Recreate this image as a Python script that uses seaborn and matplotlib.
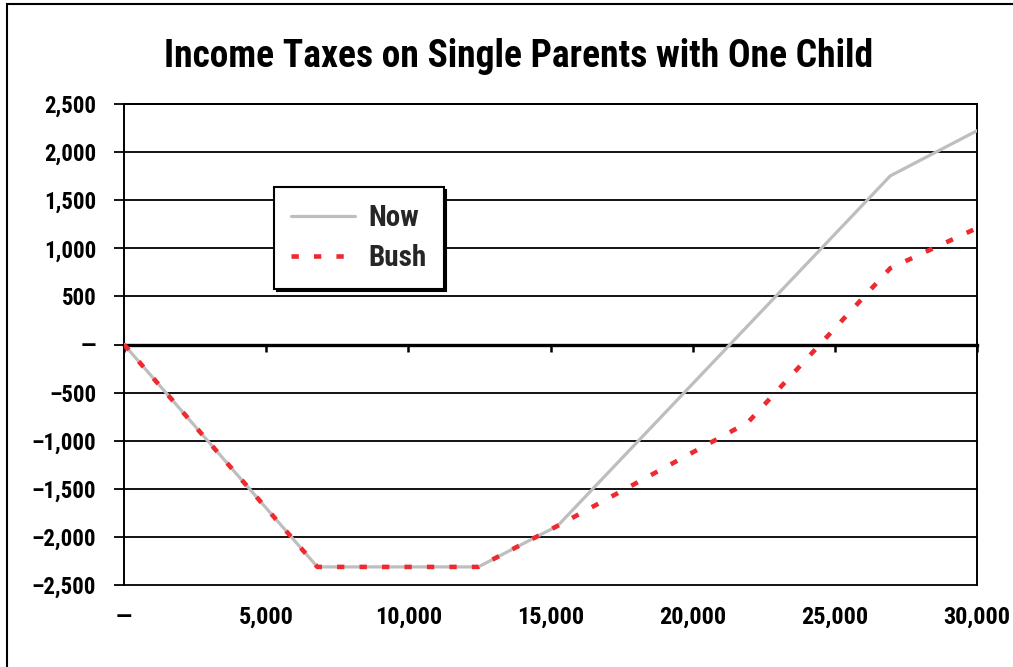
import matplotlib
matplotlib.use("Agg")
import matplotlib.pyplot as plt
from matplotlib import font_manager
from matplotlib.patches import Rectangle
import seaborn as sns
import pandas as pd

# Tax (negative = refund) by earned income, current law vs. the Bush plan
income_now = [0, 6800, 12460, 15250, 26950, 30000]
tax_now = [0, -2312, -2312, -1885, 1753, 2222]

income_bush = [0, 6800, 12460, 15250, 21950, 26950, 30000]
tax_bush = [0, -2312, -2312, -1885, -808, 793, 1210]

series_names = ["Now", "Bush"]

x_ticks = [0, 5000, 10000, 15000, 20000, 25000, 30000]
x_tick_labels = ["\u2014", "5,000", "10,000", "15,000", "20,000", "25,000", "30,000"]

y_ticks = [-2500, -2000, -1500, -1000, -500, 0, 500, 1000, 1500, 2000, 2500]
y_tick_labels = ["\u20132,500", "\u20132,000", "\u20131,500", "\u20131,000", "\u2013500",
                 "\u2014", "500", "1,000", "1,500", "2,000", "2,500"]

title = "Income Taxes on Single Parents with One Child"

sns.set_style("white")
available = {f.name for f in font_manager.fontManager.ttflist}
family = next((f for f in ["Liberation Sans Narrow", "Arial Narrow", "Roboto Condensed"]
               if f in available), "DejaVu Sans")
plt.rcParams["font.family"] = [family, "DejaVu Sans"]
plt.rcParams["font.weight"] = "bold"

W, H = 1013, 667
fig = plt.figure(figsize=(W / 100, H / 100), dpi=100)
ax = fig.add_axes([124 / W, 1 - 585 / H, 853 / W, 481 / H])

now_df = pd.DataFrame({"income": income_now, "tax": tax_now})
bush_df = pd.DataFrame({"income": income_bush, "tax": tax_bush})

sns.lineplot(data=now_df, x="income", y="tax", ax=ax, color="#BEBEBE",
             linewidth=2.3, label=series_names[0], zorder=4)
sns.lineplot(data=bush_df, x="income", y="tax", ax=ax, color="#EE2A30",
             linewidth=3.3, linestyle=(0, (1.6, 3.3)), label=series_names[1], zorder=5)

ax.set_xlim(0, 30000)
ax.set_ylim(-2500, 2500)
ax.set_xlabel("")
ax.set_ylabel("")

# horizontal gridlines double as the top and bottom of the plot frame
ax.set_yticks(y_ticks, labels=y_tick_labels)
ax.yaxis.grid(True, color="black", linewidth=1.3)
ax.xaxis.grid(False)
for gl in ax.get_ygridlines():
    gl.set_clip_on(False)
ax.tick_params(axis="y", left=True, direction="out", length=7, width=1.3,
               color="black", pad=13, labelsize=16.5, labelcolor="black")

# category axis crosses at zero, labels sit under the frame
ax.spines["bottom"].set_position(("data", 0))
ax.spines["bottom"].set_linewidth(2.4)
ax.spines["bottom"].set_color("black")
ax.set_xticks(x_ticks)
ax.tick_params(axis="x", bottom=True, direction="out", length=5, width=1.8,
               color="black", labelbottom=False)

for side in ["left", "right", "top"]:
    ax.spines[side].set_visible(True)
    ax.spines[side].set_color("black")
    ax.spines[side].set_linewidth(1.4)

sec = ax.secondary_xaxis("bottom")
sec.set_xticks(x_ticks, labels=x_tick_labels)
sec.tick_params(length=0, pad=15, labelsize=17.5, labelcolor="black")
sec.spines["bottom"].set_visible(False)

leg = ax.legend(loc="upper left", bbox_to_anchor=(0.176, 0.827), borderaxespad=0,
                fontsize=21, handlelength=2.2, handletextpad=0.45, borderpad=0.58,
                labelspacing=0.4, frameon=True, fancybox=False, edgecolor="black",
                framealpha=1, shadow={"facecolor": "black", "edgecolor": "black", "alpha": 1})
leg.get_frame().set_linewidth(1.5)
leg.set_zorder(10)

fig.text(519 / W, 1 - 67 / H, title, ha="center", va="baseline",
         fontsize=27, fontweight="bold", color="black")

fig.add_artist(Rectangle((7 / W, -0.05), 1.2, 1 - 4 / H + 0.05, transform=fig.transFigure,
                         fill=False, edgecolor="black", linewidth=1.5))

fig.savefig("out.png", dpi=100)
